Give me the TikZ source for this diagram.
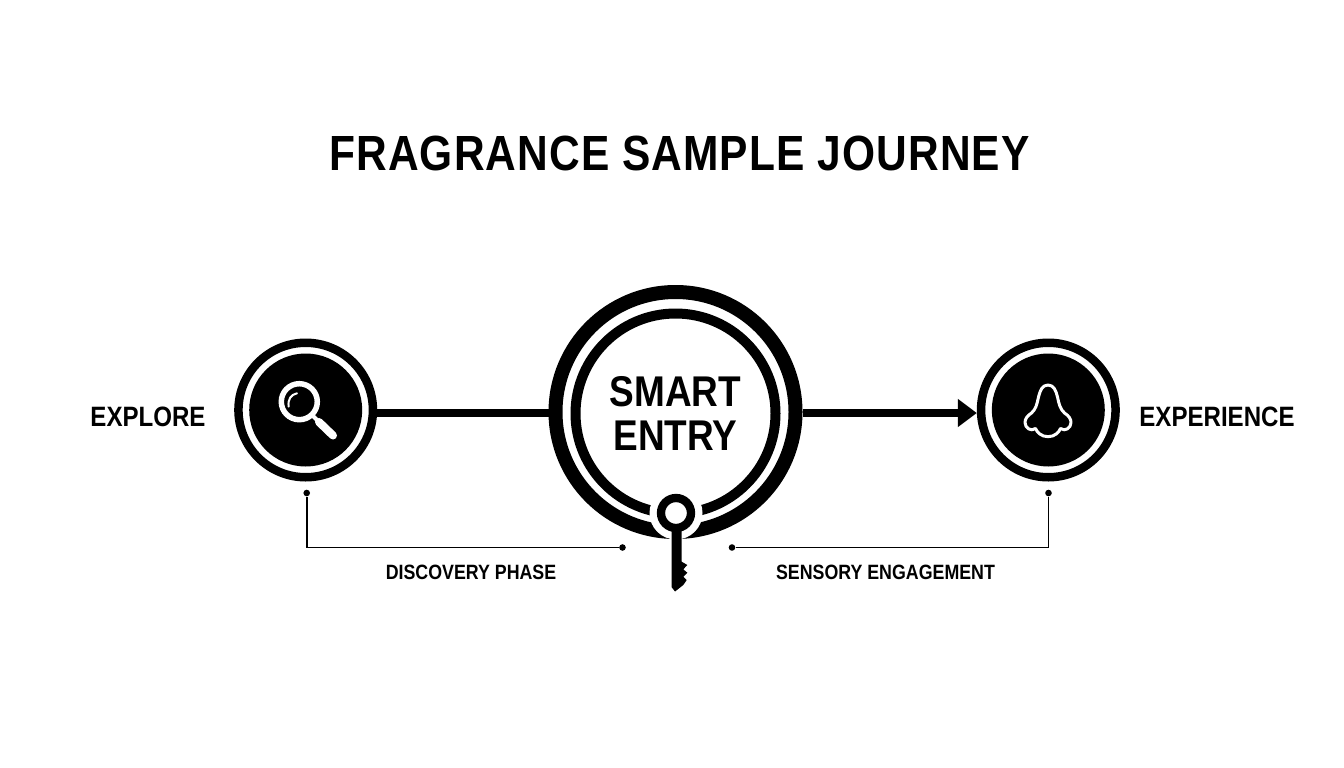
\documentclass[tikz,border=0pt]{standalone}
\usepackage{fontspec}
\usetikzlibrary{positioning,arrows.meta}
\newfontfamily\labelfont[FakeStretch=0.86,BoldFont={Liberation Sans Bold}]{Liberation Sans}
\newcommand{\ringnode}[3]{
  \node(#1)[ringout] at (#2,#3){};
  \node(#1-in)[ringin] at (#1.center){};
}

\begin{document}
\begin{tikzpicture}[
  x=1pt,y=-1pt,
  ringout/.style={circle,draw=black,fill=white,line width=8.5pt,inner sep=0,minimum size=134.5pt},
  ringin/.style={circle,fill=black,inner sep=0,minimum size=113pt},
  caption/.style={font=\labelfont\bfseries\fontsize{28}{30}\selectfont,anchor=base},
  subcaption/.style={font=\labelfont\bfseries\fontsize{20.7}{22}\selectfont,anchor=base},
  thinline/.style={draw=black,line width=1.7pt},
  tipdot/.style={circle,fill=black,inner sep=0,minimum size=6.6pt},
  icon/.style={draw=white,line cap=round,line join=round},
  ]
  \useasboundingbox (0,0) rectangle (1344,768);
  \node(title)[anchor=base,font=\labelfont\bfseries\fontsize{49.4}{52}\selectfont] at (679.5,170.5)
    {\addfontfeature{LetterSpace=2.2}FRAGRANCE SAMPLE JOURNEY};

  \ringnode{explore}{305.7}{410}
  \ringnode{experience}{1048.3}{410}
  \node(smart)[circle,draw=black,fill=white,line width=14pt,inner sep=0,minimum size=240pt] at (675.5,412){};
  \node(entry)[circle,draw=black,line width=10pt,inner sep=0,minimum size=200pt,align=center,
    font=\labelfont\bfseries\fontsize{43}{44.5}\selectfont] at (675.5,413.5){SMART\\ENTRY};

  \draw[line width=8pt] ([yshift=-3pt]explore.east) -- ([yshift=-1pt]smart.west);
  \draw[line width=8pt,-{Triangle[length=19pt,width=27pt]}] ([yshift=-1pt]smart.east) -- ([yshift=-3pt]experience.west);

  % magnifier
  \draw[icon,line width=5.5pt] (299.3,401.7) circle (18);
  \draw[icon,line width=4pt] (312,415) -- (319,422);
  \draw[icon,line width=8pt] (319,422) -- (333,435.5);
  \draw[icon,line width=2pt] (288.7,406.7) .. controls (287.5,399.5) and (291,394.5) .. (297,393.3);

  % nose
  \draw[icon,line width=3pt] (1048,385)
    .. controls (1042,385) and (1040,391) .. (1038.5,397)
    .. controls (1037,404) and (1036,409) .. (1031.5,413)
    .. controls (1027,416) and (1025,419) .. (1025,422.5)
    .. controls (1025,428) and (1031,432) .. (1035.5,428.5)
    .. controls (1037,432) and (1041,436.7) .. (1048,436.7)
    .. controls (1055,436.7) and (1059,432) .. (1060.5,428.5)
    .. controls (1065,432) and (1071,428) .. (1071,422.5)
    .. controls (1071,419) and (1069,416) .. (1064.5,413)
    .. controls (1060,409) and (1059,404) .. (1057.5,397)
    .. controls (1056,391) and (1054,385) .. (1048,385) -- cycle;

  % key
  \fill[white] (676,513) circle (26.5);
  \node(keyring)[circle,draw=black,fill=white,line width=8.3pt,inner sep=0,minimum size=30pt] at (676,513){};
  \fill[black] (671.5,528) -- (671.5,587) -- (675,591.5) -- (683.3,585) -- (686.7,580) -- (683.3,576.7)
    -- (687.3,572.7) -- (683.3,569.3) -- (687.3,565) -- (681.7,561.7) -- (681.7,528) -- cycle;

  \node(explorelabel)[caption] at (148,426){EXPLORE};
  \node(experiencelabel)[caption] at (1217,426){EXPERIENCE};
  \node(discovery)[subcaption] at (471,579.5){DISCOVERY PHASE};
  \node(sensory)[subcaption] at (885.5,579.5){SENSORY ENGAGEMENT};

  \node(exploredot)[tipdot] at (306.7,493){};
  \node(discoverydot)[tipdot] at (622.5,547.5){};
  \node(experiencedot)[tipdot] at (1048.5,493){};
  \node(sensorydot)[tipdot] at (732,547.5){};
  \draw[thinline] (exploredot) |- (discoverydot);
  \draw[thinline] (experiencedot) |- (sensorydot);
\end{tikzpicture}
\end{document}
